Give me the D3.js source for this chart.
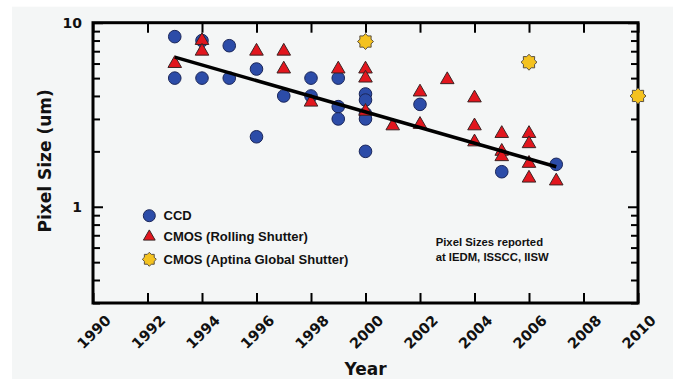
<!DOCTYPE html>
<html><head><meta charset="utf-8">
<script src="https://cdn.jsdelivr.net/npm/d3@7/dist/d3.min.js"></script>
<style>body{margin:0;background:#fff}svg{display:block}</style>
</head><body>
<svg id="chart" width="673" height="379"></svg>
<script>
// ---- data ----
const yearTicks = [1990,1992,1994,1996,1998,2000,2002,2004,2006,2008,2010];
const yMajorTicks = [1, 10];
const yMinorTicks = [0.3,0.4,0.5,0.6,0.7,0.8,0.9,2,3,4,5,6,7,8,9];
const ccdYears  = [1993,1993,1994,1994,1995,1995,1996,1996,1997,1998,1998,1999,1999,1999,2000,2000,2000,2000,2000,2002,2005,2007];
const ccdValues = [8.4,5.0,8.0,5.0,7.5,5.0,5.6,2.4,4.0,5.0,4.0,5.0,3.5,3.0,4.1,3.8,3.2,3.0,2.0,3.6,1.55,1.7];
const cmosYears  = [1993,1994,1994,1996,1997,1997,1998,1999,2000,2000,2000,2001,2002,2002,2003,2004,2004,2004,2005,2005,2005,2006,2006,2006,2006,2007];
const cmosValues = [6.0,8.0,7.0,7.0,7.0,5.6,3.7,5.6,5.6,5.0,3.3,2.75,4.2,2.8,4.9,3.9,2.75,2.25,2.5,2.0,1.87,2.5,2.2,1.72,1.43,1.38];
const globalYears  = [2000,2006,2010];
const globalValues = [7.9,6.1,4.0];
const trendYears  = [1993,2007];
const trendValues = [6.5,1.65];
const legendLabels = ["CCD","CMOS (Rolling Shutter)","CMOS (Aptina Global Shutter)"];
const noteLines = ["Pixel Sizes reported","at IEDM, ISSCC, IISW"];
const xTitle = "Year";
const yTitle = "Pixel Size (um)";

// ---- layout ----
const svg = d3.select("#chart");
const L = 93, R = 638, T = 22.7, B = 303;
const x = d3.scaleLinear().domain([1990,2010]).range([L,R]);
const y = d3.scaleLog().domain([0.3,10]).range([B,T]);

const BLUE="#2c4ca8", BLUE_S="#1b275a", RED="#e2161e", RED_S="#3b2424", YEL="#f4c21f", YEL_S="#5a5040";
const boldSans = "'DejaVu Sans', Verdana, sans-serif";
const arial = "'Liberation Sans', Arial, sans-serif";

svg.append("rect").attr("x",12).attr("y",6.7).attr("width",661).attr("height",373).attr("fill","#f4f6f6");

// ---- axes ----
function styleAxis(g){ g.select(".domain").remove(); g.selectAll("line").attr("stroke","#000").attr("stroke-width",2); }
svg.append("g").attr("transform",`translate(0,${B})`)
  .call(d3.axisBottom(x).tickValues(yearTicks).tickSizeInner(-10).tickSizeOuter(0).tickFormat(""))
  .call(styleAxis);
svg.append("g").attr("transform",`translate(0,${T})`)
  .call(d3.axisTop(x).tickValues(yearTicks).tickSizeInner(-10).tickSizeOuter(0).tickFormat(""))
  .call(styleAxis);
svg.append("g").attr("transform",`translate(${L},0)`)
  .call(d3.axisLeft(y).tickValues(yMajorTicks).tickSizeInner(-10).tickSizeOuter(0).tickFormat(""))
  .call(styleAxis);
svg.append("g").attr("transform",`translate(${L},0)`)
  .call(d3.axisLeft(y).tickValues(yMinorTicks).tickSizeInner(-7).tickSizeOuter(0).tickFormat(""))
  .call(styleAxis);
svg.append("g").attr("transform",`translate(${R},0)`)
  .call(d3.axisRight(y).tickValues(yMajorTicks).tickSizeInner(-10).tickSizeOuter(0).tickFormat(""))
  .call(styleAxis);
svg.append("g").attr("transform",`translate(${R},0)`)
  .call(d3.axisRight(y).tickValues(yMinorTicks).tickSizeInner(-7).tickSizeOuter(0).tickFormat(""))
  .call(styleAxis);

svg.append("rect").attr("x",L).attr("y",T).attr("width",R-L).attr("height",B-T)
  .attr("fill","none").attr("stroke","#000").attr("stroke-width",3);

// tick labels
svg.append("g").selectAll("text").data(yearTicks).join("text")
  .attr("transform",d=>`translate(${x(d)+1},332) rotate(-45)`)
  .attr("text-anchor","middle").attr("dy","0.35em")
  .attr("font-family",boldSans).attr("font-weight","bold").attr("font-size",14.5)
  .attr("fill","#111").text(d=>d);
svg.append("g").selectAll("text").data(yMajorTicks).join("text")
  .attr("x",82).attr("y",d=>y(d)).attr("dy","0.35em").attr("text-anchor","end")
  .attr("font-family",boldSans).attr("font-weight","bold").attr("font-size",14)
  .attr("fill","#111").text(d=>d);

svg.append("text").attr("x",(L+R)/2).attr("y",375).attr("text-anchor","middle")
  .attr("font-family",boldSans).attr("font-weight","bold").attr("font-size",17).attr("fill","#111").text(xTitle);
svg.append("text").attr("transform",`translate(51,${(T+B)/2-2}) rotate(-90)`).attr("text-anchor","middle")
  .attr("font-family",boldSans).attr("font-weight","bold").attr("font-size",17).attr("fill","#111").text(yTitle);

// ---- markers ----
const star = (ro, ri, n) => {
  const pts=[]; for(let i=0;i<2*n;i++){const r=i%2?ri:ro; const a=Math.PI*i/n - Math.PI/2; pts.push([r*Math.cos(a), r*Math.sin(a)]);}
  return "M"+pts.map(p=>p.join(",")).join("L")+"Z";
};
const tri = d3.symbol().type(d3.symbolTriangle).size(80);

const ccd = ccdYears.map((d,i)=>({year:d,v:ccdValues[i]}));
const cmos = cmosYears.map((d,i)=>({year:d,v:cmosValues[i]}));
const glob = globalYears.map((d,i)=>({year:d,v:globalValues[i]}));

svg.append("g").selectAll("circle").data(ccd).join("circle")
  .attr("cx",d=>x(d.year)).attr("cy",d=>y(d.v)).attr("r",6.3)
  .attr("fill",BLUE).attr("stroke",BLUE_S).attr("stroke-width",1);
svg.append("g").selectAll("path").data(cmos).join("path")
  .attr("d",tri).attr("transform",d=>`translate(${x(d.year)},${y(d.v)})`)
  .attr("fill",RED).attr("stroke",RED_S).attr("stroke-width",1);

const trend = trendYears.map((d,i)=>[x(d), y(trendValues[i])]);
svg.append("path").attr("d",d3.line()(trend)).attr("stroke","#000").attr("stroke-width",3.5).attr("fill","none");

svg.append("g").selectAll("path").data(glob).join("path")
  .attr("d",star(8,6,8)).attr("transform",d=>`translate(${x(d.year)},${y(d.v)})`)
  .attr("fill",YEL).attr("stroke",YEL_S).attr("stroke-width",1);

// ---- legend ----
const lg = svg.append("g");
const legY = [215.7, 236.7, 259.3];
lg.append("circle").attr("cx",149.3).attr("cy",legY[0]).attr("r",6).attr("fill",BLUE).attr("stroke",BLUE_S);
lg.append("path").attr("d",d3.symbol().type(d3.symbolTriangle).size(60)).attr("transform",`translate(149.3,${legY[1]})`).attr("fill",RED).attr("stroke",RED_S);
lg.append("path").attr("d",star(7,5.3,8)).attr("transform",`translate(149.3,${legY[2]})`).attr("fill",YEL).attr("stroke",YEL_S);
lg.selectAll("text").data(legendLabels).join("text")
  .attr("x",163.5).attr("y",(d,i)=>legY[i]).attr("dy","0.36em")
  .attr("font-family",arial).attr("font-weight","bold").attr("font-size",13).attr("fill","#111").text(d=>d);

svg.append("g").selectAll("text").data(noteLines).join("text")
  .attr("x",435.7).attr("y",(d,i)=>246+i*14.5)
  .attr("font-family",arial).attr("font-weight","bold").attr("font-size",11.3).attr("fill","#111").text(d=>d);
</script>
</body></html>
